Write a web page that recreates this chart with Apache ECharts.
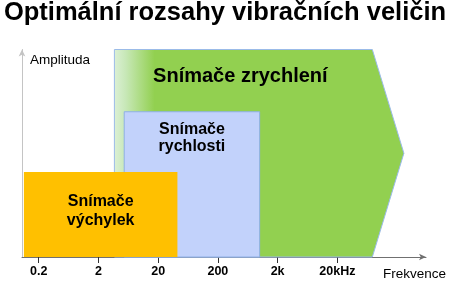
<!DOCTYPE html>
<html>
<head>
<meta charset="utf-8">
<script src="https://cdn.jsdelivr.net/npm/echarts@6/dist/echarts.min.js"></script>
<style>html,body{margin:0;padding:0;background:#fff}#c{width:450px;height:281px}</style>
</head>
<body>
<div id="c"></div>
<script>
// ---- data ----
const titleText = 'Optimální rozsahy vibračních veličin';
const tickFreqs = [0.2, 2, 20, 200, 2000, 20000];
const tickLabels = ['0.2', '2', '20', '200', '2k', '20kHz'];
const bandNames = ['Snímače\nvýchylek', 'Snímače\nrychlosti', 'Snímače zrychlení'];
const bandFreqStart = [0.113, 5.4, 3.7];     // Hz
const bandFreqEnd = [42, 1000, 77000];       // Hz
const bandAmplitude = [41, 70, 100];         // relative amplitude (0-100)
const arrowTipFreq = 260000;                 // Hz, tip of the accelerometer arrow
const arrowTipAmplitude = 50;
const axisFreqMin = 0.105, axisFreqMax = 610000;

const FONT = '"Liberation Sans", Arial, sans-serif';
const lg = Math.log10;

function renderBand(i, api) {
  const x0 = lg(bandFreqStart[i]), x1 = lg(bandFreqEnd[i]), amp = bandAmplitude[i];
  const pBL = api.coord([x0, 0]);
  const pTR = api.coord([x1, amp]);
  const children = [];
  if (i === 2) {
    const tip = api.coord([lg(arrowTipFreq), arrowTipAmplitude]);
    const pts = [[pBL[0], pTR[1]], [pTR[0], pTR[1]], [tip[0], tip[1]], [pTR[0], pBL[1]], [pBL[0], pBL[1]]];
    children.push({
      type: 'polygon', shape: { points: pts },
      style: {
        fill: new echarts.graphic.LinearGradient(0, 0, 1, 0, [
          { offset: 0, color: '#dcf0d6' }, { offset: 0.04, color: '#c8e8b8' }, { offset: 0.14, color: '#92d050' }, { offset: 1, color: '#92d050' }
        ]),
        stroke: '#9bbbe8', lineWidth: 1
      }
    });
    children.push({
      type: 'text',
      style: { text: bandNames[i], x: (pBL[0] + pTR[0]) / 2 - 3, y: pTR[1] + 27, align: 'center', verticalAlign: 'middle',
        font: 'bold 20px ' + FONT, fill: '#000' }
    });
  } else {
    const blue = i === 1;
    children.push({
      type: 'rect', shape: { x: pBL[0], y: pTR[1], width: pTR[0] - pBL[0], height: pBL[1] - pTR[1] },
      style: { fill: blue ? '#c2d2fb' : '#ffc000', stroke: blue ? '#8fb0e6' : null, lineWidth: blue ? 1 : 0 }
    });
    const cy = blue ? pTR[1] + 26.5 : (pTR[1] + pBL[1]) / 2 - 3.5;
    children.push({
      type: 'text',
      style: { text: bandNames[i], x: (pBL[0] + pTR[0]) / 2, y: cy, align: 'center', verticalAlign: 'middle',
        font: 'bold 16px ' + FONT, fill: '#000', lineHeight: blue ? 17.5 : 18.5 }
    });
  }
  return { type: 'group', children };
}

const order = [2, 1, 0];
const bandData = order.map(i => [lg(bandFreqStart[i]), lg(bandFreqEnd[i]), bandAmplitude[i], i]);

const chart = echarts.init(document.getElementById('c'), null, { renderer: 'canvas' });
chart.setOption({
  animation: false,
  backgroundColor: '#fff',
  title: {
    text: titleText, left: 'center', top: 0, padding: 0,
    textStyle: { fontFamily: FONT, fontSize: 25.5, fontWeight: 'bold', color: '#000' }
  },
  grid: { left: 22, right: 24, top: 49.5, bottom: 23 },
  xAxis: {
    type: 'value', min: lg(axisFreqMin), max: lg(axisFreqMax),
    name: 'Frekvence', nameLocation: 'end', nameGap: 20,
    nameTextStyle: { fontFamily: FONT, fontSize: 13.5, color: '#000', align: 'right', verticalAlign: 'top', padding: [10, 0, 0, 0] },
    axisLine: { onZero: false, lineStyle: { color: '#707070', width: 1 }, symbol: ['none', 'arrow'], symbolSize: [5, 7] },
    axisTick: { show: true, length: 6, lineStyle: { color: '#333' }, customValues: tickFreqs.map(lg) },
    axisLabel: {
      customValues: tickFreqs.map(lg), margin: 8,
      fontFamily: FONT, fontSize: 12.5, fontWeight: 'bold', color: '#000',
      formatter: v => {
        let best = 0;
        tickFreqs.forEach((f, k) => { if (Math.abs(lg(f) - v) < Math.abs(lg(tickFreqs[best]) - v)) best = k; });
        return tickLabels[best];
      }
    },
    splitLine: { show: false }
  },
  yAxis: {
    type: 'value', min: 0, max: 100,
    name: 'Amplituda', nameLocation: 'end', nameGap: -4,
    nameTextStyle: { fontFamily: FONT, fontSize: 13.5, color: '#000', align: 'left', verticalAlign: 'top', padding: [0, 0, 0, 8] },
    axisLine: { show: true, onZero: false, lineStyle: { color: '#c4c4c4', width: 1 }, symbol: ['none', 'arrow'], symbolSize: [5, 7] },
    axisTick: { show: false }, axisLabel: { show: false }, splitLine: { show: false }
  },
  series: [{
    type: 'custom',
    renderItem: (params, api) => renderBand(bandData[params.dataIndex][3], api),
    encode: { x: [0, 1], y: 2 },
    data: bandData,
    z: 1
  }]
});
</script>
</body>
</html>
